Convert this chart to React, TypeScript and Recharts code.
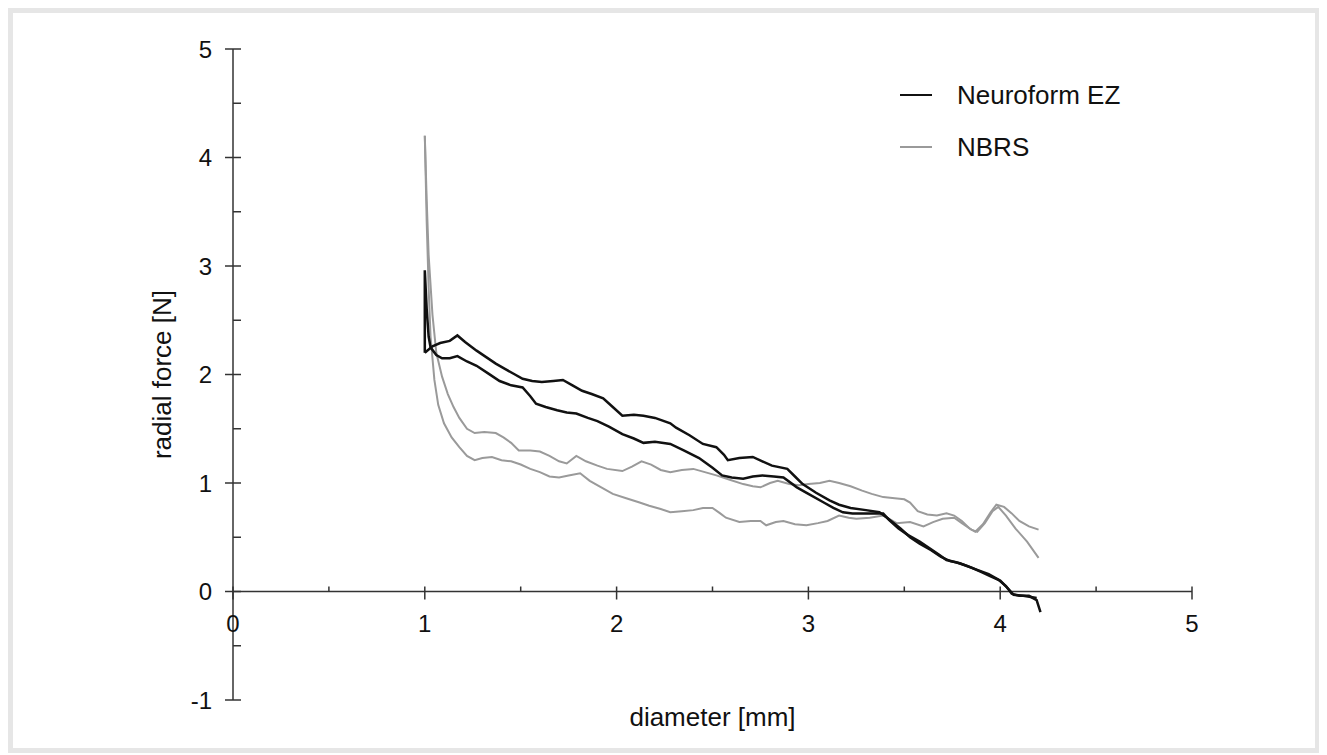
import React from 'react';
import { LineChart, Line, XAxis, YAxis, ReferenceLine } from 'recharts';

// two measurements per stent, [diameter mm, radial force N]
const EZ_A: [number, number][] = [
  [1.0, 2.2], [1.04, 2.26], [1.08, 2.29], [1.13, 2.31], [1.17, 2.36], [1.21, 2.3], [1.27, 2.22],
  [1.32, 2.16], [1.37, 2.1], [1.42, 2.05], [1.47, 2.0], [1.51, 1.96], [1.56, 1.94], [1.61, 1.93],
  [1.67, 1.94], [1.72, 1.95], [1.77, 1.9], [1.82, 1.85], [1.87, 1.82], [1.93, 1.78], [1.98, 1.7],
  [2.03, 1.62], [2.09, 1.63], [2.14, 1.62], [2.2, 1.6], [2.28, 1.55], [2.31, 1.51], [2.38, 1.44],
  [2.45, 1.36], [2.52, 1.33], [2.56, 1.26], [2.58, 1.21], [2.64, 1.23], [2.71, 1.24], [2.76, 1.2],
  [2.81, 1.16], [2.89, 1.13], [2.93, 1.06], [2.97, 0.99], [3.04, 0.91], [3.11, 0.84], [3.16, 0.8],
  [3.22, 0.77], [3.3, 0.75], [3.37, 0.73], [3.41, 0.68], [3.48, 0.58], [3.53, 0.5], [3.58, 0.44],
  [3.64, 0.38], [3.69, 0.32], [3.74, 0.28], [3.79, 0.26], [3.85, 0.22], [3.9, 0.18], [3.95, 0.14],
  [4.0, 0.1], [4.04, 0.03], [4.07, -0.03], [4.12, -0.04], [4.16, -0.05], [4.19, -0.06],
];

const EZ_B: [number, number][] = [
  [1.0, 2.2], [1.0, 2.96], [1.01, 2.6], [1.02, 2.35], [1.03, 2.25], [1.06, 2.18], [1.09, 2.15],
  [1.13, 2.15], [1.17, 2.17], [1.22, 2.12], [1.27, 2.08], [1.33, 2.01], [1.39, 1.94], [1.45, 1.9],
  [1.51, 1.88], [1.55, 1.8], [1.58, 1.73], [1.63, 1.7], [1.69, 1.67], [1.74, 1.65], [1.79, 1.64],
  [1.85, 1.6], [1.9, 1.57], [1.96, 1.52], [2.03, 1.45], [2.09, 1.41], [2.14, 1.37], [2.2, 1.38],
  [2.28, 1.36], [2.35, 1.3], [2.43, 1.23], [2.5, 1.14], [2.55, 1.07], [2.6, 1.05], [2.66, 1.04],
  [2.71, 1.06], [2.76, 1.07], [2.82, 1.06], [2.87, 1.05], [2.94, 0.96], [3.0, 0.9], [3.08, 0.82],
  [3.13, 0.77], [3.18, 0.73], [3.23, 0.72], [3.28, 0.72], [3.34, 0.72], [3.39, 0.72], [3.42, 0.66],
  [3.47, 0.58], [3.52, 0.52], [3.58, 0.46], [3.63, 0.4], [3.68, 0.34], [3.72, 0.29], [3.77, 0.27],
  [3.82, 0.24], [3.88, 0.2], [3.94, 0.16], [3.99, 0.11], [4.03, 0.05], [4.06, -0.02], [4.1, -0.04],
  [4.15, -0.04], [4.19, -0.08], [4.21, -0.19],
];

const NBRS_A: [number, number][] = [
  [1.0, 4.2], [1.01, 3.6], [1.02, 3.1], [1.04, 2.55], [1.06, 2.2], [1.09, 1.98], [1.12, 1.82],
  [1.15, 1.7], [1.18, 1.6], [1.22, 1.5], [1.26, 1.46], [1.31, 1.47], [1.37, 1.46], [1.41, 1.42],
  [1.45, 1.37], [1.49, 1.3], [1.55, 1.3], [1.6, 1.29], [1.65, 1.25], [1.7, 1.2], [1.74, 1.18],
  [1.79, 1.25], [1.84, 1.2], [1.9, 1.16], [1.95, 1.13], [2.03, 1.11], [2.08, 1.15], [2.13, 1.2],
  [2.18, 1.17], [2.23, 1.12], [2.28, 1.1], [2.34, 1.12], [2.4, 1.13], [2.46, 1.1], [2.52, 1.07],
  [2.59, 1.03], [2.66, 0.99], [2.71, 0.97], [2.75, 0.96], [2.8, 1.0], [2.84, 1.02], [2.9, 0.99],
  [2.95, 0.98], [3.0, 0.99], [3.06, 1.0], [3.11, 1.02], [3.16, 1.0], [3.22, 0.97], [3.28, 0.93],
  [3.33, 0.9], [3.39, 0.87], [3.45, 0.86], [3.5, 0.85], [3.53, 0.82], [3.57, 0.74], [3.62, 0.71],
  [3.67, 0.7], [3.72, 0.72], [3.76, 0.7], [3.8, 0.65], [3.84, 0.58], [3.87, 0.55], [3.91, 0.62],
  [3.95, 0.73], [3.98, 0.8], [4.02, 0.78], [4.06, 0.72], [4.1, 0.65], [4.15, 0.6], [4.2, 0.57],
];

const NBRS_B: [number, number][] = [
  [1.0, 4.2], [1.01, 3.4], [1.02, 2.8], [1.03, 2.35], [1.05, 1.95], [1.07, 1.72], [1.1, 1.55],
  [1.14, 1.42], [1.18, 1.33], [1.22, 1.25], [1.26, 1.21], [1.3, 1.23], [1.35, 1.24], [1.4, 1.21],
  [1.45, 1.2], [1.5, 1.17], [1.55, 1.13], [1.6, 1.1], [1.65, 1.06], [1.7, 1.05], [1.75, 1.07],
  [1.81, 1.09], [1.86, 1.02], [1.92, 0.96], [1.98, 0.9], [2.05, 0.86], [2.12, 0.82], [2.17, 0.79],
  [2.23, 0.76], [2.28, 0.73], [2.34, 0.74], [2.4, 0.75], [2.45, 0.77], [2.5, 0.77], [2.54, 0.72],
  [2.57, 0.68], [2.64, 0.64], [2.7, 0.65], [2.75, 0.65], [2.78, 0.61], [2.83, 0.64], [2.87, 0.65],
  [2.93, 0.62], [2.99, 0.61], [3.05, 0.63], [3.1, 0.65], [3.16, 0.7], [3.21, 0.68], [3.25, 0.67],
  [3.32, 0.68], [3.39, 0.7], [3.43, 0.66], [3.46, 0.63], [3.53, 0.64], [3.6, 0.6], [3.65, 0.64],
  [3.7, 0.67], [3.76, 0.68], [3.8, 0.63], [3.85, 0.57], [3.88, 0.55], [3.92, 0.63], [3.96, 0.74],
  [3.99, 0.78], [4.03, 0.7], [4.08, 0.58], [4.14, 0.46], [4.2, 0.31],
];

const X_TICKS = [0, 0.5, 1, 1.5, 2, 2.5, 3, 3.5, 4, 4.5, 5];
const Y_TICKS = [-1, -0.5, 0, 0.5, 1, 1.5, 2, 2.5, 3, 3.5, 4, 4.5, 5];
const LEGEND_ITEMS = [
  { name: 'Neuroform EZ', color: '#111' },
  { name: 'NBRS', color: '#9a9a9a' },
];

const W = 1302;
const H = 735;
const MARGIN = { top: 36, right: 123, bottom: 8, left: 140 };
const X_AXIS_H = 40;
const PLOT_H = H - MARGIN.top - MARGIN.bottom - X_AXIS_H;
const Y_MIN = -1;
const Y_MAX = 5;
// distance from the plot bottom up to y = 0, where the x axis sits
const ZERO_OFFSET = (PLOT_H * (0 - Y_MIN)) / (Y_MAX - Y_MIN);

const FONT = '"Liberation Sans", Arial, Helvetica, sans-serif';
const AXIS = '#333';

const toPoints = (arr: [number, number][]) => arr.map(([x, y]) => ({ x, y }));

function XTick(props: any) {
  const { x, y, payload } = props;
  const v = payload.value;
  const major = Number.isInteger(v);
  const ay = y - ZERO_OFFSET;
  return (
    <g>
      <line x1={x} x2={x} y1={ay - 5} y2={major ? ay + 8 : ay} stroke={AXIS} strokeWidth={1.5} />
      {major && (
        <text x={x} y={ay + 40} textAnchor="middle" fontSize={24} fontFamily={FONT} fill="#111">
          {v}
        </text>
      )}
    </g>
  );
}

function YTick(props: any) {
  const { x, y, payload } = props;
  const v = payload.value;
  const major = Number.isInteger(v);
  return (
    <g>
      <line x1={major ? x - 8 : x} x2={x + 8} y1={y} y2={y} stroke={AXIS} strokeWidth={1.5} />
      {major && (
        <text x={x - 21} y={y + 8.5} textAnchor="end" fontSize={24} fontFamily={FONT} fill="#111">
          {v}
        </text>
      )}
    </g>
  );
}

function LegendBox() {
  return (
    <div style={{ position: 'absolute', top: 56, left: 887, fontFamily: FONT, fontSize: 26, color: '#111' }}>
      {LEGEND_ITEMS.map((it) => (
        <div key={it.name} style={{ display: 'flex', alignItems: 'center', height: 52 }}>
          <span style={{ display: 'inline-block', width: 32, height: 2.5, background: it.color, marginRight: 25 }} />
          <span>{it.name}</span>
        </div>
      ))}
    </div>
  );
}

export default function App() {
  return (
    <div style={{ position: 'relative', width: W, height: H, border: '5px solid #e6e6e6', background: '#fff', fontFamily: FONT }}>
      <LineChart width={W} height={H} margin={MARGIN}>
        <XAxis
          dataKey="x"
          type="number"
          domain={[0, 5]}
          ticks={X_TICKS}
          interval={0}
          height={X_AXIS_H}
          axisLine={false}
          tickLine={false}
          tickSize={0}
          tickMargin={0}
          tick={XTick}
          label={{ value: 'diameter [mm]', position: 'insideBottom', offset: 14, fontSize: 26, fill: '#111', fontFamily: FONT }}
        />
        <YAxis
          type="number"
          domain={[Y_MIN, Y_MAX]}
          ticks={Y_TICKS}
          interval={0}
          width={80}
          axisLine={{ stroke: AXIS, strokeWidth: 1.5 }}
          tickLine={false}
          tickSize={0}
          tickMargin={0}
          tick={YTick}
          label={{
            value: 'radial force [N]',
            angle: -90,
            position: 'insideLeft',
            offset: 9,
            fontSize: 26,
            fill: '#111',
            fontFamily: FONT,
            style: { textAnchor: 'middle' },
          }}
        />
        <ReferenceLine y={0} stroke={AXIS} strokeWidth={1.5} />
        <Line data={toPoints(NBRS_A)} dataKey="y" name="NBRS" type="linear" stroke="#9a9a9a" strokeWidth={2} dot={false} isAnimationActive={false} />
        <Line data={toPoints(NBRS_B)} dataKey="y" name="NBRS 2" type="linear" stroke="#9a9a9a" strokeWidth={2} dot={false} isAnimationActive={false} />
        <Line data={toPoints(EZ_A)} dataKey="y" name="Neuroform EZ" type="linear" stroke="#111" strokeWidth={2.5} dot={false} isAnimationActive={false} />
        <Line data={toPoints(EZ_B)} dataKey="y" name="Neuroform EZ 2" type="linear" stroke="#111" strokeWidth={2.5} dot={false} isAnimationActive={false} />
      </LineChart>
      <LegendBox />
    </div>
  );
}
